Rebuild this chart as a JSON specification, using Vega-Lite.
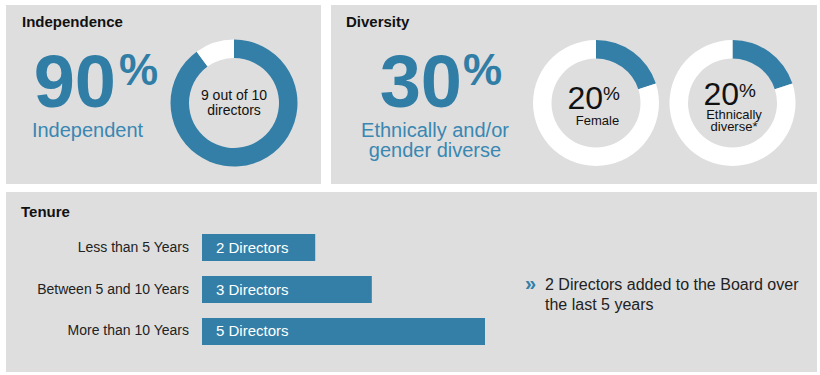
{
  "$schema": "https://vega.github.io/schema/vega-lite/v6.json",
  "padding": {"left": 6, "top": 5, "right": 0, "bottom": 0},
  "background": "#ffffff",
  "config": {"view": {"stroke": null}, "text": {"font": "Liberation Sans"}},
  "resolve": {"scale": {"color": "independent", "theta": "independent"}},
  "spacing": 8,
  "vconcat": [
    {
      "spacing": 10,
      "resolve": {"scale": {"color": "independent", "theta": "independent"}},
      "hconcat": [
        {
          "width": 315,
          "height": 179,
          "view": {"fill": "#dedede", "stroke": null},
          "layer": [
            {
              "data": {"values": [{"heading": "Independence"}]},
              "mark": {"type": "text", "align": "left", "baseline": "alphabetic", "fontSize": 15, "fontWeight": "bold", "color": "#111111"},
              "encoding": {"text": {"field": "heading"}, "x": {"value": 16}, "y": {"value": 22}}
            },
            {
              "data": {"values": [{"group": "Independent", "directors": 9}, {"group": "Not independent", "directors": 1}]},
              "mark": {"type": "arc", "innerRadius": 45, "outerRadius": 63.5},
              "encoding": {
                "theta": {"field": "directors", "type": "quantitative", "stack": true},
                "order": {"field": "group", "sort": "ascending"},
                "color": {"field": "group", "type": "nominal", "scale": {"domain": ["Independent", "Female", "Ethnically diverse", "Not independent", "Other"], "range": ["#337fa7", "#337fa7", "#337fa7", "#ffffff", "#ffffff"]}, "legend": null},
                "x": {"value": 228},
                "y": {"value": 98}
              }
            },
            {
              "data": {"values": [{"pct": "90", "label": "Independent", "note": "9 out of 10\ndirectors"}]},
              "layer": [
                {
                  "mark": {"type": "text", "align": "right", "baseline": "alphabetic", "fontSize": 74, "fontWeight": "bold", "color": "#307da6"},
                  "encoding": {"text": {"field": "pct"}, "x": {"value": 110}, "y": {"value": 102}}
                },
                {
                  "mark": {"type": "text", "align": "left", "baseline": "alphabetic", "fontSize": 44, "fontWeight": "bold", "color": "#307da6", "text": "%"},
                  "encoding": {"x": {"value": 113}, "y": {"value": 80}}
                },
                {
                  "mark": {"type": "text", "align": "center", "baseline": "alphabetic", "fontSize": 20, "color": "#3a87b2"},
                  "encoding": {"text": {"field": "label"}, "x": {"value": 81.5}, "y": {"value": 132}}
                },
                {
                  "mark": {"type": "text", "align": "center", "baseline": "alphabetic", "fontSize": 14, "color": "#111111", "lineBreak": "\n", "lineHeight": 15},
                  "encoding": {"text": {"field": "note"}, "x": {"value": 228}, "y": {"value": 95}}
                }
              ]
            }
          ]
        },
        {
          "width": 486,
          "height": 179,
          "view": {"fill": "#dedede", "stroke": null},
          "layer": [
            {
              "data": {"values": [{"heading": "Diversity"}]},
              "mark": {"type": "text", "align": "left", "baseline": "alphabetic", "fontSize": 15, "fontWeight": "bold", "color": "#111111"},
              "encoding": {"text": {"field": "heading"}, "x": {"value": 15}, "y": {"value": 22}}
            },
            {
              "data": {"values": [{"pct": "30", "label": "Ethnically and/or\ngender diverse"}]},
              "layer": [
                {
                  "mark": {"type": "text", "align": "right", "baseline": "alphabetic", "fontSize": 74, "fontWeight": "bold", "color": "#307da6"},
                  "encoding": {"text": {"field": "pct"}, "x": {"value": 131}, "y": {"value": 102}}
                },
                {
                  "mark": {"type": "text", "align": "left", "baseline": "alphabetic", "fontSize": 44, "fontWeight": "bold", "color": "#307da6", "text": "%"},
                  "encoding": {"x": {"value": 132}, "y": {"value": 80}}
                },
                {
                  "mark": {"type": "text", "align": "center", "baseline": "alphabetic", "fontSize": 20, "color": "#3a87b2", "lineBreak": "\n", "lineHeight": 20},
                  "encoding": {"text": {"field": "label"}, "x": {"value": 104}, "y": {"value": 132}}
                }
              ]
            },
            {
              "data": {"values": [{"group": "Female", "directors": 2}, {"group": "Other", "directors": 8}]},
              "mark": {"type": "arc", "innerRadius": 44.5, "outerRadius": 63},
              "encoding": {
                "theta": {"field": "directors", "type": "quantitative", "stack": true},
                "order": {"field": "group", "sort": "ascending"},
                "color": {"field": "group", "type": "nominal", "scale": {"domain": ["Independent", "Female", "Ethnically diverse", "Not independent", "Other"], "range": ["#337fa7", "#337fa7", "#337fa7", "#ffffff", "#ffffff"]}, "legend": null},
                "x": {"value": 265},
                "y": {"value": 98}
              }
            },
            {
              "data": {"values": [{"group": "Ethnically diverse", "directors": 2}, {"group": "Other", "directors": 8}]},
              "mark": {"type": "arc", "innerRadius": 44.5, "outerRadius": 63},
              "encoding": {
                "theta": {"field": "directors", "type": "quantitative", "stack": true},
                "order": {"field": "group", "sort": "ascending"},
                "color": {"field": "group", "type": "nominal", "scale": {"domain": ["Independent", "Female", "Ethnically diverse", "Not independent", "Other"], "range": ["#337fa7", "#337fa7", "#337fa7", "#ffffff", "#ffffff"]}, "legend": null},
                "x": {"value": 401.5},
                "y": {"value": 98}
              }
            },
            {
              "data": {"values": [{"pct": "20", "label": "Female"}]},
              "layer": [
                {
                  "mark": {"type": "text", "align": "right", "baseline": "alphabetic", "fontSize": 32, "color": "#111111"},
                  "encoding": {"text": {"field": "pct"}, "x": {"value": 272}, "y": {"value": 104}}
                },
                {
                  "mark": {"type": "text", "align": "left", "baseline": "alphabetic", "fontSize": 19, "color": "#111111", "text": "%"},
                  "encoding": {"x": {"value": 272}, "y": {"value": 95}}
                },
                {
                  "mark": {"type": "text", "align": "center", "baseline": "alphabetic", "fontSize": 13, "color": "#111111"},
                  "encoding": {"text": {"field": "label"}, "x": {"value": 266.5}, "y": {"value": 120}}
                }
              ]
            },
            {
              "data": {"values": [{"pct": "20", "label": "Ethnically\ndiverse*"}]},
              "layer": [
                {
                  "mark": {"type": "text", "align": "right", "baseline": "alphabetic", "fontSize": 32, "color": "#111111"},
                  "encoding": {"text": {"field": "pct"}, "x": {"value": 408}, "y": {"value": 100}}
                },
                {
                  "mark": {"type": "text", "align": "left", "baseline": "alphabetic", "fontSize": 19, "color": "#111111", "text": "%"},
                  "encoding": {"x": {"value": 408}, "y": {"value": 92}}
                },
                {
                  "mark": {"type": "text", "align": "center", "baseline": "alphabetic", "fontSize": 13, "color": "#111111", "lineBreak": "\n", "lineHeight": 12},
                  "encoding": {"text": {"field": "label"}, "x": {"value": 403}, "y": {"value": 114}}
                }
              ]
            }
          ]
        }
      ]
    },
    {
      "width": 811,
      "height": 180,
      "view": {"fill": "#dedede", "stroke": null},
      "data": {
        "values": [
          {"tenure": "Less than 5 Years", "directors": 2, "label": "2 Directors"},
          {"tenure": "Between 5 and 10 Years", "directors": 3, "label": "3 Directors"},
          {"tenure": "More than 10 Years", "directors": 5, "label": "5 Directors"}
        ]
      },
      "encoding": {
        "y": {"field": "tenure", "type": "nominal", "sort": null, "scale": {"range": [34.5, 160.5], "paddingInner": 0.357, "paddingOuter": 0.1786}, "axis": null}
      },
      "layer": [
        {
          "mark": {"type": "bar", "color": "#337fa7"},
          "encoding": {"x": {"field": "directors", "type": "quantitative", "scale": {"domain": [0, 10], "range": [196, 762]}, "axis": null}}
        },
        {
          "mark": {"type": "text", "align": "right", "baseline": "middle", "dx": -13, "fontSize": 14, "color": "#222222"},
          "encoding": {"x": {"datum": 0, "type": "quantitative"}, "text": {"field": "tenure"}}
        },
        {
          "mark": {"type": "text", "align": "left", "baseline": "middle", "dx": 14, "fontSize": 15, "color": "#ffffff"},
          "encoding": {"x": {"datum": 0, "type": "quantitative"}, "text": {"field": "label"}}
        },
        {
          "data": {"values": [{"heading": "Tenure", "note": "2 Directors added to the Board over\nthe last 5 years"}]},
          "layer": [
            {
              "mark": {"type": "text", "align": "left", "baseline": "alphabetic", "fontSize": 15, "fontWeight": "bold", "color": "#111111"},
              "encoding": {"text": {"field": "heading"}, "x": {"value": 15}, "y": {"value": 25}}
            },
            {
              "mark": {"type": "text", "align": "left", "baseline": "alphabetic", "fontSize": 20, "fontWeight": "bold", "color": "#337fa7", "text": "»"},
              "encoding": {"x": {"value": 519}, "y": {"value": 98}}
            },
            {
              "mark": {"type": "text", "align": "left", "baseline": "alphabetic", "fontSize": 16, "color": "#222222", "lineBreak": "\n", "lineHeight": 20},
              "encoding": {"text": {"field": "note"}, "x": {"value": 539}, "y": {"value": 98}}
            }
          ]
        }
      ]
    }
  ]
}
